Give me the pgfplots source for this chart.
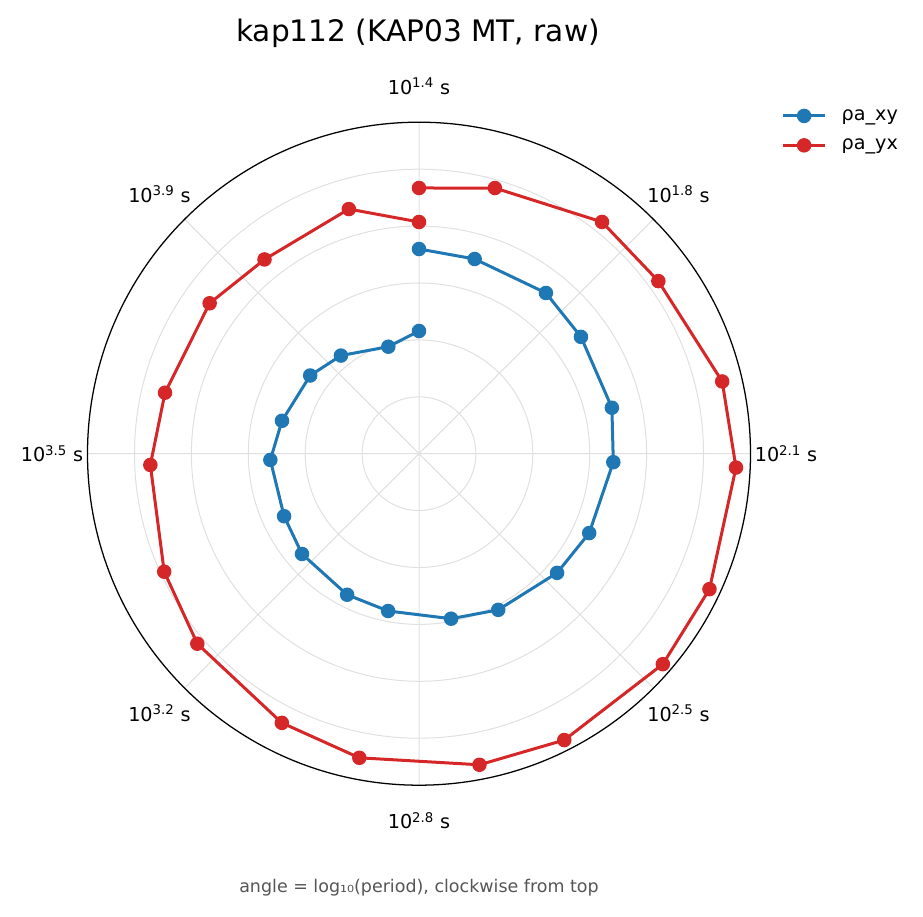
\documentclass[border=0pt]{standalone}
\usepackage{pgfplots}
\pgfplotsset{compat=1.18}
\usepgfplotslibrary{polar}
\usepackage{fontspec}
\setmainfont{DejaVu Sans}
\definecolor{mblue}{HTML}{1F77B4}
\definecolor{mred}{HTML}{D62728}
\definecolor{footgray}{HTML}{555555}
\newcommand\tickfont{\fontsize{14.4}{17}\selectfont}
\newcommand\titlefont{\fontsize{22.2}{26}\selectfont}
\newcommand\footfont{\fontsize{13.1}{16}\selectfont}
\begin{document}
\begin{tikzpicture}[x=0.75pt,y=0.75pt]
\useasboundingbox (0,0) rectangle (923,916);
\begin{polaraxis}[
  at={(419,462.3)}, anchor=center,
  scale only axis, width=497.25pt, height=497.25pt,
  xmin=0, xmax=360, ymin=0, ymax=331.5,
  xtick={0,45,...,315},
  ytick={56.9,113.8,170.7,227.6,284.5},
  xticklabels={}, yticklabels={},
  major tick length=0pt,
  xmajorgrids, ymajorgrids,
  major grid style={draw=black!12, line width=0.75pt},
  axis line style={line width=0.95pt, black},
  y axis line style={draw=none},
  clip=false,
  legend cell align=left,
  legend style={at={(axis description cs:1.046,1.0235)}, anchor=north west,
    draw=none, fill=none, font=\tickfont, row sep=8.5pt, inner sep=0pt,
    nodes={inner sep=2pt}},
  legend image code/.code={\draw[mark repeat=2,mark phase=2] plot coordinates {(0pt,0pt)(16pt,0pt)(32pt,0pt)};\path (41pt,0pt);},
]
\addplot[mblue, line width=2.25pt, mark=*, mark size=4.3pt] coordinates {
(90,204.7) (74.05,202.5) (51.7,204.8) (35.8,199.7) (13.4,198.3)
(357.5,194.5) (335,187.8) (319.2,182.4) (296.9,175.1) (281,168.1)
(258.9,160.3) (243,158.3) (220.6,154.1) (204.85,148.7) (182.4,148.8)
(166.5,140.9) (144.3,134.0) (128.5,125.4) (106,111.3) (90,122.7)
};
\addlegendentry{ρa\_xy}
\addplot[mred, line width=2.25pt, mark=*, mark size=4.3pt] coordinates {
(90,265.7) (74.05,276.3) (51.7,295.3) (35.8,295.1) (13.4,311.7)
(357.5,317.3) (335,320.5) (319.2,322.1) (296.9,321.1) (281,316.9)
(258.9,309.9) (243,302.1) (220.6,292.0) (204.85,280.8) (182.4,268.9)
(166.5,261.2) (144.3,257.8) (128.5,248.2) (106,254.5) (90,231.7)
};
\addlegendentry{ρa\_yx}
\node[font=\tickfont] at (axis cs:90,367) {10\textsuperscript{1.4} s};
\node[font=\tickfont] at (axis cs:45,367) {10\textsuperscript{1.8} s};
\node[font=\tickfont] at (axis cs:0,367) {10\textsuperscript{2.1} s};
\node[font=\tickfont] at (axis cs:315,367) {10\textsuperscript{2.5} s};
\node[font=\tickfont] at (axis cs:270,367) {10\textsuperscript{2.8} s};
\node[font=\tickfont] at (axis cs:225,367) {10\textsuperscript{3.2} s};
\node[font=\tickfont] at (axis cs:180,367) {10\textsuperscript{3.5} s};
\node[font=\tickfont] at (axis cs:135,367) {10\textsuperscript{3.9} s};
\end{polaraxis}
\node[anchor=base, font=\titlefont] at (418,874.3) {kap112 (KAP03 MT, raw)};
\node[anchor=base, font=\footfont, text=footgray] at (419,23) {angle = log₁₀(period), clockwise from top};
\end{tikzpicture}
\end{document}
